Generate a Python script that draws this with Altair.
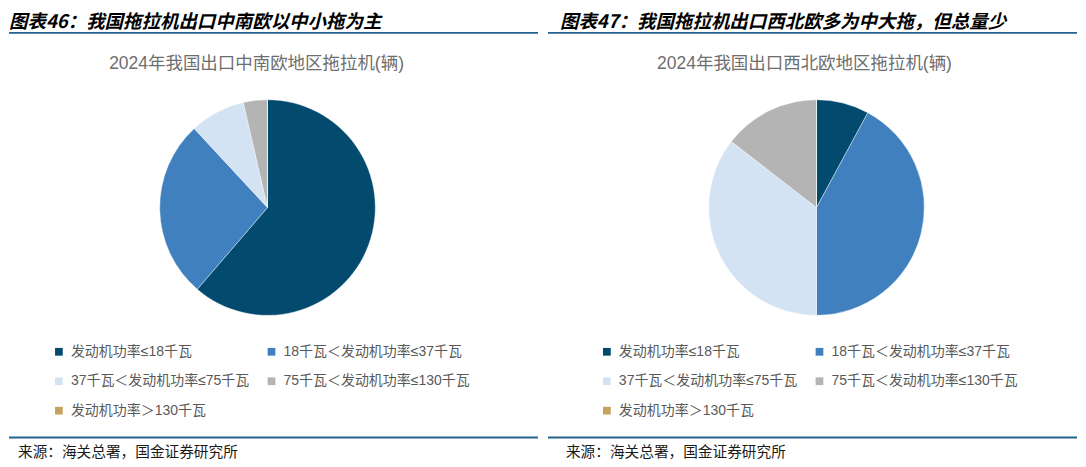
import altair as alt
import pandas as pd

categories = [
    "发动机功率≤18千瓦",
    "18千瓦＜发动机功率≤37千瓦",
    "37千瓦＜发动机功率≤75千瓦",
    "75千瓦＜发动机功率≤130千瓦",
    "发动机功率＞130千瓦",
]
colors = ["#024A6E", "#4180BE", "#D3E3F3", "#B4B4B4", "#C4A35F"]
left_values = [61.3, 26.8, 8.3, 3.6, 0.0]
right_values = [7.9, 42.1, 35.5, 14.5, 0.0]

titles = ["图表46：我国拖拉机出口中南欧以中小拖为主", "图表47：我国拖拉机出口西北欧多为中大拖，但总量少"]
subtitles = ["2024年我国出口中南欧地区拖拉机(辆)", "2024年我国出口西北欧地区拖拉机(辆)"]
source = "来源：海关总署，国金证券研究所"

FONT = "Noto Sans CJK SC"
MIXED = "Liberation Sans, Noto Sans CJK SC"
W, H = 535, 451
one = alt.Data(values=[{"a": 1}])


def panel(values, title, subtitle, cx, title_x, sub_x, leg_x, src_x, line_x0, line_x1):
    df = pd.DataFrame({"cat": categories, "value": values, "idx": list(range(len(categories)))})
    pie = alt.Chart(df).mark_arc(radius=108, stroke="white", strokeWidth=0.4).encode(
        theta=alt.Theta("value:Q", stack=True),
        color=alt.Color(
            "cat:N",
            scale=alt.Scale(domain=categories, range=colors),
            sort=categories,
            legend=alt.Legend(
                title=None,
                orient="none",
                direction="horizontal",
                legendX=leg_x,
                legendY=337,
                columns=2,
                symbolType="square",
                symbolSize=60,
                symbolStrokeWidth=0,
                labelOffset=5,
                labelFont=MIXED,
                labelFontSize=14,
                labelColor="#595959",
                labelLimit=400,
                rowPadding=15.5,
                columnPadding=15,
                padding=0,
            ),
        ),
        order=alt.Order("idx:Q"),
        x=alt.value(cx),
        y=alt.value(199.5),
    )
    ttl = alt.Chart(one).mark_text(
        text=title, font=FONT, fontSize=18.5, fontWeight="bold", fontStyle="italic",
        align="left", baseline="middle", color="#000000",
    ).encode(x=alt.value(title_x), y=alt.value(14))
    sub = alt.Chart(one).mark_text(
        text=subtitle, font=MIXED, fontSize=17.5, align="center", baseline="middle", color="#6E6E6E",
    ).encode(x=alt.value(sub_x), y=alt.value(56))
    top_rule = alt.Chart(one).mark_rule(color="#26628E", strokeWidth=2).encode(
        x=alt.value(line_x0), x2=alt.value(line_x1), y=alt.value(24.5)
    )
    bot_rule = alt.Chart(one).mark_rule(color="#26628E", strokeWidth=2).encode(
        x=alt.value(line_x0), x2=alt.value(line_x1), y=alt.value(430)
    )
    src = alt.Chart(one).mark_text(
        text=source, font=FONT, fontSize=14.7, align="left", baseline="middle", color="#1a1a1a",
    ).encode(x=alt.value(src_x), y=alt.value(445))
    return alt.layer(pie, ttl, sub, top_rule, bot_rule, src).properties(width=W, height=H)


left = panel(left_values, titles[0], subtitles[0], 259, 0, 248, 43, 9, 0, 530)
right = panel(right_values, titles[1], subtitles[1], 274, 17, 262, 57, 23, 5, 535)

chart = (
    alt.hconcat(left, right, spacing=0)
    .resolve_legend(color="independent")
    .resolve_scale(color="independent")
    .properties(padding=0, background="white")
    .configure_view(stroke=None)
)

chart.save("out.html", embed_options={"renderer": "svg", "actions": False})
